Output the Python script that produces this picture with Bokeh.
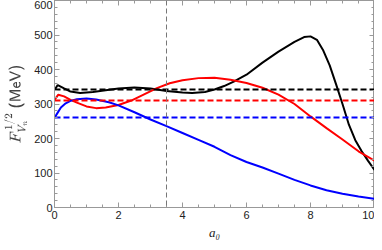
from bokeh.plotting import figure
from bokeh.models import LinearAxis, Range1d, Span, FixedTicker
from bokeh.embed import file_html
from bokeh.resources import INLINE

# Data
black_x = [0, 0.1, 0.3, 0.5, 0.8, 1.2, 1.6, 2.0, 2.5, 3.0, 3.5, 4.0, 4.3, 4.7, 5.0, 5.3, 5.6, 6.0, 6.5, 7.0, 7.5, 7.8, 8.0, 8.2, 8.4, 8.6, 8.8, 9.0, 9.2, 9.4, 9.6, 9.8, 10]
black_y = [340, 355, 345, 336, 332, 335, 340, 345, 348, 345, 338, 333, 332, 335, 342, 352, 365, 385, 420, 452, 480, 494, 496, 486, 455, 412, 357, 300, 240, 195, 163, 135, 109]

red_x = [0, 0.12, 0.3, 0.5, 0.7, 1.0, 1.3, 1.6, 2.0, 2.4, 2.8, 3.2, 3.6, 4.0, 4.5, 5.0, 5.5, 6.0, 6.5, 7.0, 7.5, 8.0, 8.5, 9.0, 9.5, 10]
red_y = [312, 327, 322, 312, 304, 293, 288, 290, 297, 310, 328, 346, 360, 369, 375, 376, 370, 361, 347, 327, 300, 264, 230, 197, 163, 136]

blue_x = [0, 0.1, 0.2, 0.35, 0.5, 0.7, 1.0, 1.3, 1.7, 2.0, 2.5, 3.0, 3.5, 4.0, 4.5, 5.0, 5.5, 6.0, 6.5, 7.0, 7.5, 8.0, 8.5, 9.0, 9.5, 10]
blue_y = [260, 275, 290, 302, 309, 314, 316, 313, 305, 296, 276, 255, 236, 216, 196, 176, 152, 132, 116, 98, 80, 64, 50, 40, 32, 25]

dashed_x = [0, 10]
black_dashed = 342
red_dashed = 310
blue_dashed = 261
vline_x = 3.5

x_ticks = [0, 2, 4, 6, 8, 10]
y_ticks = [0, 100, 200, 300, 400, 500, 600]

FONT = "Liberation Sans"
FRAME = "#999999"

p = figure(width=374, height=242, output_backend="svg", toolbar_location=None,
           x_range=Range1d(0, 10), y_range=Range1d(0, 600),
           min_border_left=40, min_border_right=0, min_border_top=0, min_border_bottom=0,
           x_axis_label="a\u2080",
           y_axis_label=r"$$F_{V_n}^{1/2}\ \mathsf{(MeV)}$$")
p.grid.visible = False
p.outline_line_color = FRAME
p.background_fill_color = "white"
p.border_fill_color = "white"

def style_axis(ax):
    ax.axis_line_color = FRAME
    ax.major_tick_line_color = FRAME
    ax.minor_tick_line_color = FRAME
    ax.major_tick_in = 5
    ax.major_tick_out = 0
    ax.minor_tick_in = 3
    ax.minor_tick_out = 0
    ax.major_label_text_font = FONT
    ax.major_label_text_font_size = "11px"
    ax.major_label_text_color = "#222222"
    ax.axis_label_text_font_size = "13px"
    ax.axis_label_standoff = 4

style_axis(p.xaxis[0])
style_axis(p.yaxis[0])
p.xaxis[0].ticker = FixedTicker(ticks=x_ticks, minor_ticks=[i * 0.5 for i in range(21)])
p.yaxis[0].ticker = FixedTicker(ticks=y_ticks, minor_ticks=list(range(0, 601, 20)))
p.xaxis[0].major_label_standoff = 3
p.xaxis[0].axis_label_standoff = 3
p.xaxis[0].axis_label_text_font = "Liberation Serif"
p.xaxis[0].axis_label_text_font_style = "italic"
p.xaxis[0].axis_label_text_font_size = "13px"
p.xaxis[0].axis_label_text_color = "#222222"
p.yaxis[0].major_label_standoff = 2

top = LinearAxis(ticker=FixedTicker(ticks=x_ticks, minor_ticks=[i * 0.5 for i in range(21)]),
                 major_label_overrides={t: "" for t in x_ticks})
right = LinearAxis(ticker=FixedTicker(ticks=y_ticks, minor_ticks=list(range(0, 601, 20))),
                   major_label_overrides={t: "" for t in y_ticks})
for ax in (top, right):
    style_axis(ax)
    ax.major_label_standoff = 0
p.add_layout(top, "above")
p.add_layout(right, "right")

p.line(black_x, black_y, line_color="black", line_width=2)
p.line(red_x, red_y, line_color="#ff0000", line_width=2)
p.line(blue_x, blue_y, line_color="#0000ff", line_width=2)

p.line(dashed_x, [black_dashed] * 2, line_color="black", line_width=2, line_dash="6 3")
p.line(dashed_x, [red_dashed] * 2, line_color="#ff0000", line_width=2, line_dash="6 3")
p.line(dashed_x, [blue_dashed] * 2, line_color="#0000ff", line_width=2, line_dash="6 3")

p.add_layout(Span(location=vline_x, dimension="height", line_color="#777777",
                  line_width=1, line_dash="5 3"))

open("out.html", "w").write(file_html(p, INLINE))
